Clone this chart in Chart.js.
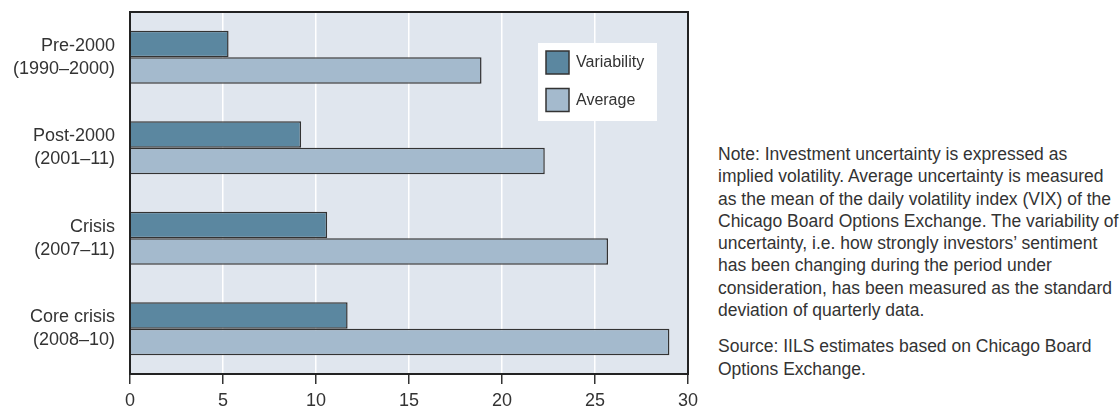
<!DOCTYPE html>
<html>
<head>
<meta charset="utf-8">
<script src="https://cdn.jsdelivr.net/npm/chart.js@4.4.1/dist/chart.umd.min.js"></script>
<style>
  html, body { margin: 0; padding: 0; background: #fff; }
  body { width: 1120px; height: 412px; position: relative; overflow: hidden; font-family: "Liberation Sans", Arial, sans-serif; }
  #wrap { position: absolute; left: 0; top: 0; width: 700px; height: 412px; }
  #note { position: absolute; left: 718px; top: 143px; width: 402px; font-size: 17.5px; line-height: 22.3px; color: #333; }
  #note p { margin: 0; }
  #note p + p { margin-top: 14px; }
</style>
</head>
<body>
<div id="wrap"><canvas id="chart"></canvas></div>
<div id="note">
  <p>Note: Investment uncertainty is expressed as<br>implied volatility. Average uncertainty is measured<br>as the mean of the daily volatility index (VIX) of the<br>Chicago Board Options Exchange. The variability of<br>uncertainty, i.e. how strongly investors’ sentiment<br>has been changing during the period under<br>consideration, has been measured as the standard<br>deviation of quarterly data.</p>
  <p>Source: IILS estimates based on Chicago Board<br>Options Exchange.</p>
</div>
<script>
const categories = [
  ["Pre-2000", "(1990–2000)"],
  ["Post-2000", "(2001–11)"],
  ["Crisis", "(2007–11)"],
  ["Core crisis", "(2008–10)"]
];
const variability = [5.3, 9.2, 10.6, 11.7];
const average = [18.9, 22.3, 25.7, 29.0];
const xTicks = [0, 5, 10, 15, 20, 25, 30];

const textColor = "#333";

// plot background + frame
const plotFrame = {
  id: "plotFrame",
  beforeDraw(chart) {
    const { ctx, chartArea: a } = chart;
    ctx.save();
    ctx.fillStyle = "#e0e6ee";
    ctx.fillRect(a.left, a.top, a.right - a.left, a.bottom - a.top);
    ctx.restore();
  },
  afterDraw(chart) {
    const { ctx, chartArea: a } = chart;
    ctx.save();
    ctx.strokeStyle = "#222";
    ctx.lineWidth = 2;
    ctx.strokeRect(a.left, a.top, a.right - a.left, a.bottom - a.top);
    ctx.restore();
  }
};

// legend box inside plot
const insideLegend = {
  id: "insideLegend",
  afterDatasetsDraw(chart) {
    const ctx = chart.ctx;
    ctx.save();
    ctx.fillStyle = "#fff";
    ctx.fillRect(538, 43, 119, 78);
    chart.data.datasets.forEach((ds, i) => {
      const y = 51 + i * 37.5;
      ctx.fillStyle = ds.backgroundColor;
      ctx.fillRect(546, y, 23, 23);
      ctx.strokeStyle = "#333";
      ctx.lineWidth = 1.5;
      ctx.strokeRect(546, y, 23, 23);
      ctx.fillStyle = textColor;
      ctx.font = '16px "Liberation Sans", Arial, sans-serif';
      ctx.textBaseline = "middle";
      ctx.fillText(ds.label, 576, y + 12);
    });
    ctx.restore();
  }
};

new Chart(document.getElementById("chart"), {
  type: "bar",
  data: {
    labels: categories,
    datasets: [
      { label: "Variability", data: variability, backgroundColor: "#5b87a0", borderColor: "#333", borderWidth: 1.5 },
      { label: "Average", data: average, backgroundColor: "#a4bacd", borderColor: "#333", borderWidth: 1.5 }
    ]
  },
  options: {
    indexAxis: "y",
    responsive: true,
    maintainAspectRatio: false,
    animation: false,
    categoryPercentage: 0.585,
    barPercentage: 1,
    layout: { padding: { top: 12, right: 12, left: 0, bottom: 0 } },
    plugins: { legend: { display: false }, tooltip: { enabled: false } },
    scales: {
      x: {
        min: 0, max: 30,
        afterFit(s) { s.height = 38; s.paddingRight = 0; s.paddingLeft = 0; },
        afterBuildTicks(s) { s.ticks = xTicks.map(v => ({ value: v })); },
        grid: { color: "#fff", lineWidth: 1.5, tickColor: "#333", tickLength: 10 },
        border: { color: "#222", width: 2 },
        ticks: { color: textColor, padding: 6, font: { size: 18, family: '"Liberation Sans", Arial, sans-serif' } }
      },
      y: {
        afterFit(s) { s.width = 130; s.paddingTop = 0; s.paddingBottom = 0; },
        grid: { display: false, drawTicks: false },
        border: { color: "#222", width: 2 },
        ticks: { color: textColor, padding: 15, font: { size: 18, family: '"Liberation Sans", Arial, sans-serif', lineHeight: 1.28 } }
      }
    }
  },
  plugins: [plotFrame, insideLegend]
});
</script>
</body>
</html>
